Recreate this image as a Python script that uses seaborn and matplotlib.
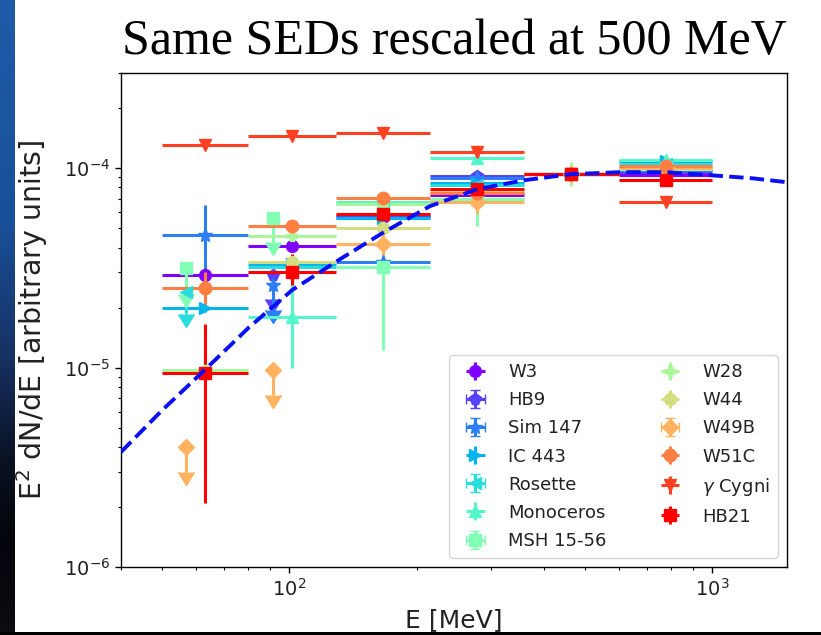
import numpy as np
import matplotlib
matplotlib.use("Agg")
import matplotlib.pyplot as plt
from matplotlib.patches import Rectangle
import seaborn as sns
import pandas as pd

nan = np.nan

# ---------------- data ----------------
names = ["W3", "HB9", "Sim 147", "IC 443", "Rosette", "Monoceros", "MSH 15-56",
         "W28", "W44", "W49B", "W51C", r"$\gamma$ Cygni", "HB21"]

E_edges = [50, 80, 129, 215, 359, 600, 1000]
E_center = [63.2, 101.6, 166.5, 277.8, 464.0, 774.6]
E_ul = [57.0, 91.5, nan, nan, nan, nan]          # abscissa of upper limits

W3_flux = [2.9e-5, 4.05e-5, 5.7e-5, 7.3e-5, 9.3e-5, 9.2e-5]
W3_lo = [2.75e-5, 3.8e-5, 5.45e-5, 6.95e-5, 8.9e-5, 8.8e-5]
W3_hi = [3.05e-5, 4.3e-5, 5.95e-5, 7.65e-5, 9.7e-5, 9.6e-5]

HB9_flux = [nan, nan, 5.8e-5, 9.1e-5, 9.3e-5, 9.6e-5]
HB9_lo = [nan, nan, 5.4e-5, 8.4e-5, 8.8e-5, 9.1e-5]
HB9_hi = [nan, nan, 6.2e-5, 9.8e-5, 9.8e-5, 1.01e-4]
HB9_ul = [nan, 2.9e-5, nan, nan, nan, nan]
HB9_ul_end = [nan, 2.2e-5, nan, nan, nan, nan]

Sim147_flux = [4.6e-5, nan, 3.4e-5, 8.9e-5, 9.3e-5, 9.8e-5]
Sim147_lo = [3.0e-5, nan, 3.2e-5, 8.4e-5, 8.8e-5, 9.3e-5]
Sim147_hi = [6.5e-5, nan, 3.6e-5, 9.4e-5, 9.8e-5, 1.03e-4]
Sim147_ul = [nan, 2.6e-5, nan, nan, nan, nan]
Sim147_ul_end = [nan, 1.95e-5, nan, nan, nan, nan]

IC443_flux = [2.0e-5, 3.3e-5, 5.6e-5, 8.4e-5, 9.3e-5, 1.08e-4]
IC443_lo = [1.9e-5, 3.15e-5, 5.35e-5, 8.0e-5, 8.9e-5, 1.03e-4]
IC443_hi = [2.1e-5, 3.45e-5, 5.85e-5, 8.8e-5, 9.7e-5, 1.13e-4]

Rosette_flux = [nan, 3.2e-5, 6.6e-5, 8.2e-5, 9.3e-5, 1.05e-4]
Rosette_lo = [nan, 3.0e-5, 6.3e-5, 7.8e-5, 8.9e-5, 1.0e-4]
Rosette_hi = [nan, 3.4e-5, 6.9e-5, 8.6e-5, 9.7e-5, 1.1e-4]
Rosette_ul = [2.4e-5, nan, nan, nan, nan, nan]
Rosette_ul_end = [1.85e-5, nan, nan, nan, nan, nan]

Monoceros_flux = [nan, 1.8e-5, 6.8e-5, 1.12e-4, 9.3e-5, 1.1e-4]
Monoceros_lo = [nan, 1.0e-5, 6.4e-5, 1.05e-4, 8.8e-5, 1.04e-4]
Monoceros_hi = [nan, 3.1e-5, 7.2e-5, 1.19e-4, 9.8e-5, 1.16e-4]

MSH_flux = [nan, nan, 3.2e-5, 7.0e-5, 9.3e-5, 1.0e-4]
MSH_lo = [nan, nan, 1.22e-5, 5.1e-5, 8.8e-5, 9.5e-5]
MSH_hi = [nan, nan, 4.6e-5, 8.6e-5, 9.8e-5, 1.05e-4]
MSH_ul = [3.15e-5, 5.6e-5, nan, nan, nan, nan]
MSH_ul_end = [2.35e-5, 4.25e-5, nan, nan, nan, nan]

W28_flux = [9.7e-6, 4.55e-5, 6.6e-5, 7.6e-5, 9.3e-5, 9.9e-5]
W28_lo = [9.2e-6, 4.3e-5, 6.3e-5, 7.2e-5, 8.1e-5, 9.4e-5]
W28_hi = [1.02e-5, 4.8e-5, 6.9e-5, 8.0e-5, 1.07e-4, 1.04e-4]

W44_flux = [nan, 3.4e-5, 5.0e-5, 7.7e-5, 9.3e-5, 1.0e-4]
W44_lo = [nan, 3.25e-5, 4.8e-5, 7.4e-5, 8.9e-5, 9.6e-5]
W44_hi = [nan, 3.55e-5, 5.2e-5, 8.0e-5, 9.7e-5, 1.04e-4]

W49B_flux = [nan, nan, 4.15e-5, 6.75e-5, 9.3e-5, 1.0e-4]
W49B_lo = [nan, nan, 3.5e-5, 5.9e-5, 8.8e-5, 9.5e-5]
W49B_hi = [nan, nan, 4.8e-5, 7.6e-5, 9.8e-5, 1.05e-4]
W49B_ul = [4.0e-6, 9.7e-6, nan, nan, nan, nan]
W49B_ul_end = [3.0e-6, 7.3e-6, nan, nan, nan, nan]

W51C_flux = [2.5e-5, 5.1e-5, 7.1e-5, 7.5e-5, 9.3e-5, 1.03e-4]
W51C_lo = [2.0e-5, 4.8e-5, 6.7e-5, 7.1e-5, 8.9e-5, 9.8e-5]
W51C_hi = [3.0e-5, 5.4e-5, 7.5e-5, 7.9e-5, 9.7e-5, 1.08e-4]

gCyg_flux = [1.3e-4, 1.45e-4, 1.5e-4, 1.2e-4, 9.3e-5, 6.8e-5]
gCyg_lo = [1.25e-4, 1.4e-4, 1.45e-4, 1.14e-4, 8.9e-5, 6.5e-5]
gCyg_hi = [1.35e-4, 1.5e-4, 1.55e-4, 1.26e-4, 9.7e-5, 7.1e-5]

HB21_flux = [9.4e-6, 3.0e-5, 5.9e-5, 7.9e-5, 9.3e-5, 8.7e-5]
HB21_lo = [2.1e-6, 2.6e-5, 5.5e-5, 7.4e-5, 8.9e-5, 8.3e-5]
HB21_hi = [1.65e-5, 3.7e-5, 6.3e-5, 8.4e-5, 9.7e-5, 9.1e-5]

# model curve
curve_E = [40, 50, 63, 80, 101.6, 133, 168, 215, 278, 359, 464, 609, 774, 1000, 1240, 1500]
curve_F = [3.77e-6, 6.1e-6, 9.7e-6, 1.58e-5, 2.45e-5, 3.54e-5, 4.8e-5, 6.45e-5, 7.85e-5,
           8.7e-5, 9.33e-5, 9.55e-5, 9.55e-5, 9.2e-5, 8.9e-5, 8.5e-5]

series = [
    (W3_flux, W3_lo, W3_hi, None, None),
    (HB9_flux, HB9_lo, HB9_hi, HB9_ul, HB9_ul_end),
    (Sim147_flux, Sim147_lo, Sim147_hi, Sim147_ul, Sim147_ul_end),
    (IC443_flux, IC443_lo, IC443_hi, None, None),
    (Rosette_flux, Rosette_lo, Rosette_hi, Rosette_ul, Rosette_ul_end),
    (Monoceros_flux, Monoceros_lo, Monoceros_hi, None, None),
    (MSH_flux, MSH_lo, MSH_hi, MSH_ul, MSH_ul_end),
    (W28_flux, W28_lo, W28_hi, None, None),
    (W44_flux, W44_lo, W44_hi, None, None),
    (W49B_flux, W49B_lo, W49B_hi, W49B_ul, W49B_ul_end),
    (W51C_flux, W51C_lo, W51C_hi, None, None),
    (gCyg_flux, gCyg_lo, gCyg_hi, None, None),
    (HB21_flux, HB21_lo, HB21_hi, None, None),
]

# ---------------- style ----------------
markers = ['o', 'p', '*', '>', '<', '^', 's', 'P', 'o', 'D', 'o', 'v', 's']
msizes = [8.5, 8.5, 10, 8.5, 8.5, 8.5, 8.5, 7, 8.5, 8, 9, 8.5, 8.5]
colors = plt.cm.rainbow(np.linspace(0, 1, len(names)))

sns.set_theme(style="ticks")
plt.rcParams['font.family'] = ['DejaVu Sans']
plt.rcParams['mathtext.fontset'] = 'dejavusans'

fig = plt.figure(figsize=(8.21, 6.35), dpi=100)
fig.patch.set_facecolor('white')

# slide background strip on the left and dark band at the bottom
strip = fig.add_axes([0, 0, 14 / 821, 1])
grad_pos = [0.0, 0.35, 0.55, 0.72, 0.85, 1.0]
grad_col = [(0.12, 0.36, 0.66), (0.10, 0.31, 0.60), (0.09, 0.20, 0.40),
            (0.04, 0.07, 0.14), (0.01, 0.02, 0.04), (0.05, 0.05, 0.07)]
yy = np.linspace(0, 1, 300)
img = np.stack([np.interp(yy, grad_pos, [c[k] for c in grad_col]) for k in range(3)], axis=-1)
strip.imshow(img[:, None, :], aspect='auto', extent=[0, 1, 1, 0])
strip.set_axis_off()
fig.add_artist(Rectangle((0, 0), 1, 3 / 635, transform=fig.transFigure,
                         facecolor='black', edgecolor='none'))

ax = fig.add_axes([121 / 821, 1 - 567 / 635, (787 - 121) / 821, (567 - 73) / 635])
ax.set_xscale('log')
ax.set_yscale('log')
ax.set_facecolor('white')

edges = np.array(E_edges, float)
centers = np.array(E_center, float)
ulx = np.array(E_ul, float)

all_caps = []
for i, (flux, lo, hi, ul, ul_end) in enumerate(series):
    flux = np.array(flux, float); lo = np.array(lo, float); hi = np.array(hi, float)
    m = ~np.isnan(flux)
    x = list(centers[m])
    y = list(flux[m])
    xl = list(centers[m] - edges[:-1][m])
    xh = list(edges[1:][m] - centers[m])
    yl = list(flux[m] - lo[m])
    yh = list(hi[m] - flux[m])
    lims = [False] * int(m.sum())
    if ul is not None:
        ul = np.array(ul, float); ul_end = np.array(ul_end, float)
        mu = ~np.isnan(ul)
        x += list(ulx[mu]); y += list(ul[mu])
        xl += [0] * int(mu.sum()); xh += [0] * int(mu.sum())
        yl += list(ul[mu] - ul_end[mu]); yh += [0] * int(mu.sum())
        lims += [True] * int(mu.sum())
    eb = ax.errorbar(x, y, xerr=[xl, xh], yerr=[yl, yh], uplims=lims,
                     fmt=markers[i], color=colors[i], mec=colors[i], ms=msizes[i],
                     elinewidth=2.2, capsize=0, label=names[i], zorder=2 + i * 0.01)
    for cl in eb[1]:
        cl.set_markersize(6.5)
        all_caps.append(cl)

curve = pd.DataFrame({"E": curve_E, "F": curve_F})
sns.lineplot(data=curve, x="E", y="F", ax=ax, color='#0a10f5', linestyle='--',
             linewidth=2.8, zorder=3)

ax.set_xlim(40, 1500)
ax.set_ylim(1e-6, 3e-4)

for s in ax.spines.values():
    s.set_color('black')
    s.set_linewidth(1.0)
ax.tick_params(which='major', direction='out', length=4.5, width=1, color='black',
               labelsize=14, labelcolor='#222222')
ax.tick_params(which='minor', direction='out', length=2.5, width=0.8, color='black')

ax.set_xlabel("E [MeV]", fontsize=18, color='#222222', labelpad=6)
ax.set_ylabel(r"E$^2$ dN/dE [arbitrary units]", fontsize=20.5, color='#222222', labelpad=10)
ax.set_title("Same SEDs rescaled at 500 MeV", fontsize=36, family='Liberation Serif',
             color='black', pad=14)

leg = ax.legend(ncol=2, loc='lower right', fontsize=13, handlelength=2.0,
                handletextpad=0.8, columnspacing=2.5, labelspacing=0.56,
                borderpad=0.45, frameon=True)
leg.get_frame().set_edgecolor('#cccccc')
for t in leg.get_texts():
    t.set_color('#222222')

# enlarge the upper-limit arrow heads in the plot (after the legend copied small caps)
for cl in all_caps:
    cl.set_markersize(12)

fig.savefig("out.png", dpi=100, facecolor='white')
